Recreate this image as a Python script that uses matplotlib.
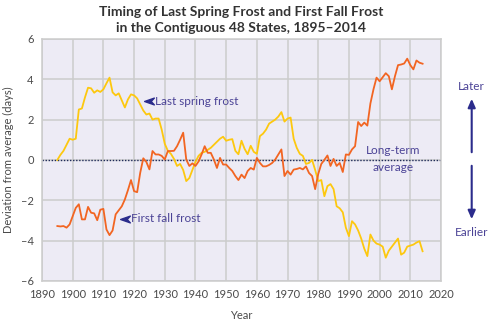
import numpy as np
import matplotlib.pyplot as plt
from matplotlib.path import Path
from matplotlib.patches import FancyArrowPatch

plt.rcParams['font.family'] = ['Lato', 'DejaVu Sans']

years = np.arange(1895, 2015)

# deviation from long-term average, days
spring = [
    0.0, 0.25, 0.45, 0.75, 1.05,                                   # 1895-1899
    1.0, 1.05, 2.5, 2.55, 3.1, 3.58, 3.55, 3.33, 3.45, 3.37,       # 1900s
    3.5, 3.8, 4.08, 3.35, 3.2, 3.3, 2.95, 2.6, 3.0, 3.25,          # 1910s
    3.2, 3.05, 2.75, 2.45, 2.25, 2.3, 2.0, 2.05, 2.05, 1.5,        # 1920s
    0.8, 0.45, 0.3, 0.05, -0.3, -0.2, -0.5, -1.05, -0.9, -0.5,     # 1930s
    -0.1, 0.2, 0.35, 0.4, 0.5, 0.6, 0.75, 0.9, 1.05, 1.15,         # 1940s
    0.95, 1.0, 1.03, 0.45, 0.28, 0.95, 0.55, 0.28, 0.7, 0.4,       # 1950s
    0.3, 1.18, 1.3, 1.5, 1.8, 1.9, 2.0, 2.15, 2.37, 1.9,           # 1960s
    2.05, 2.1, 1.05, 0.6, 0.3, 0.2, -0.2, -0.15, 0.0, -0.5,        # 1970s
    -1.05, -1.0, -1.8, -1.3, -1.2, -1.45, -2.3, -2.4, -2.6, -3.36, # 1980s
    -3.78, -3.04, -3.2, -3.5, -3.9, -4.4, -4.77, -3.7, -4.0, -4.15, # 1990s
    -4.2, -4.3, -4.85, -4.5, -4.3, -4.1, -3.9, -4.7, -4.6, -4.3,   # 2000s
    -4.25, -4.2, -4.1, -4.03, -4.53,                               # 2010-2014
]

fall = [
    -3.28, -3.3, -3.28, -3.36, -3.2,
    -2.79, -2.38, -2.2, -2.95, -2.95, -2.33, -2.62, -2.65, -2.99, -2.47,
    -2.43, -3.45, -3.73, -3.5, -2.7, -2.5, -2.3, -1.96, -1.5, -1.0,
    -1.55, -1.6, -0.64, 0.08, -0.1, -0.47, 0.44, 0.27, 0.27, 0.2,
    0.02, 0.44, 0.44, 0.45, 0.68, 1.0, 1.35, 0.02, -0.3, -0.17,
    -0.3, -0.08, 0.27, 0.68, 0.35, 0.35, 0.02, -0.4, 0.1, -0.23,
    -0.23, -0.4, -0.55, -0.8, -1.0, -0.73, -0.9, -0.55, -0.4, -0.48,
    0.1, -0.15, -0.32, -0.32, -0.25, -0.15, 0.02, 0.27, 0.52, -0.8,
    -0.55, -0.73, -0.48, -0.45, -0.4, -0.47, -0.32, -0.65, -0.8, -1.45,
    -0.7, -0.2, 0.0, 0.22, -0.3, 0.05, -0.3, -0.15, -0.6, 0.27,
    0.25, 0.52, 0.68, 1.88, 1.68, 1.85, 1.7, 2.8, 3.5, 4.08,
    3.9, 4.1, 4.3, 4.15, 3.5, 4.15, 4.7, 4.73, 4.78, 5.02,
    4.7, 4.49, 4.93, 4.82, 4.77,
]

x_ticks = list(range(1890, 2021, 10))
y_ticks = list(range(-6, 7, 2))

yellow = '#FDC80F'
orange = '#F26522'
label_col = '#4B4396'
arrow_col = '#2B2C8C'
tick_col = '#4A4A4A'

fig = plt.figure(figsize=(5, 3.27), dpi=100)
ax = fig.add_axes([0.084, 0.141, 0.798, 0.74])
ax.set_facecolor('#EDEBF5')

ax.plot(years, spring, color=yellow, lw=1.3, zorder=3)
ax.plot(years, fall, color=orange, lw=1.3, zorder=3)
ax.axhline(0, color='#1F2A5A', lw=1.0, ls=(0, (1, 1.2)), zorder=2)

ax.set_xlim(1890, 2020)
ax.set_ylim(-6, 6)
ax.set_xticks(x_ticks)
ax.set_yticks(y_ticks)
ax.set_yticklabels([str(v).replace('-', '\u2013') for v in y_ticks])
ax.grid(True, color='#CCCCCC', lw=1.1)
ax.set_axisbelow(True)
ax.tick_params(length=0, labelsize=8, colors=tick_col, pad=6)
for s in ax.spines.values():
    s.set_color('#CCCCCC')
    s.set_linewidth(1.1)

ax.set_xlabel('Year', fontsize=8, color=tick_col, labelpad=7)
ax.set_ylabel('Deviation from average (days)', fontsize=8, color=tick_col, labelpad=5)

# small stealth arrowheads pointing at each line
head = Path([(-1, 0), (1, 0.7), (0.35, 0), (1, -0.7), (-1, 0)],
            [Path.MOVETO, Path.LINETO, Path.LINETO, Path.LINETO, Path.CLOSEPOLY])
ax.plot([1924.8], [2.92], marker=head, ms=7, color=arrow_col, zorder=4)
ax.text(1926.9, 2.92, 'Last spring frost', fontsize=8.5, color=label_col,
        va='center', ha='left')
ax.plot([1916.9], [-2.92], marker=head, ms=7, color=arrow_col, zorder=4)
ax.text(1918.9, -2.92, 'First fall frost', fontsize=8.5, color=label_col,
        va='center', ha='left')

ax.text(2004.5, 0.45, 'Long-term', fontsize=8.5, color=label_col, ha='center', va='center')
ax.text(2004.5, -0.4, 'average', fontsize=8.5, color=label_col, ha='center', va='center')

# later / earlier arrows at the right
fx = 471.7 / 500
fig.text(fx, 1 - 86 / 327, 'Later', fontsize=8.5, color=label_col, ha='center', va='center')
fig.text(fx, 1 - 232 / 327, 'Earlier', fontsize=8.5, color=label_col, ha='center', va='center')
for y0, y1 in [(155, 96), (163, 222)]:
    fig.patches.append(FancyArrowPatch(
        (fx, 1 - y0 / 327), (fx, 1 - y1 / 327), transform=fig.transFigure,
        arrowstyle='-|>,head_length=5,head_width=2.2', color=arrow_col, lw=1.5))

fig.text(241.5 / 500, 1 - 20 / 327,
         'Timing of Last Spring Frost and First Fall Frost\nin the Contiguous 48 States, 1895\u20132014',
         fontsize=10, fontweight='bold', color='#333333', ha='center', va='center',
         linespacing=1.4)

fig.savefig('out.png', dpi=100)
